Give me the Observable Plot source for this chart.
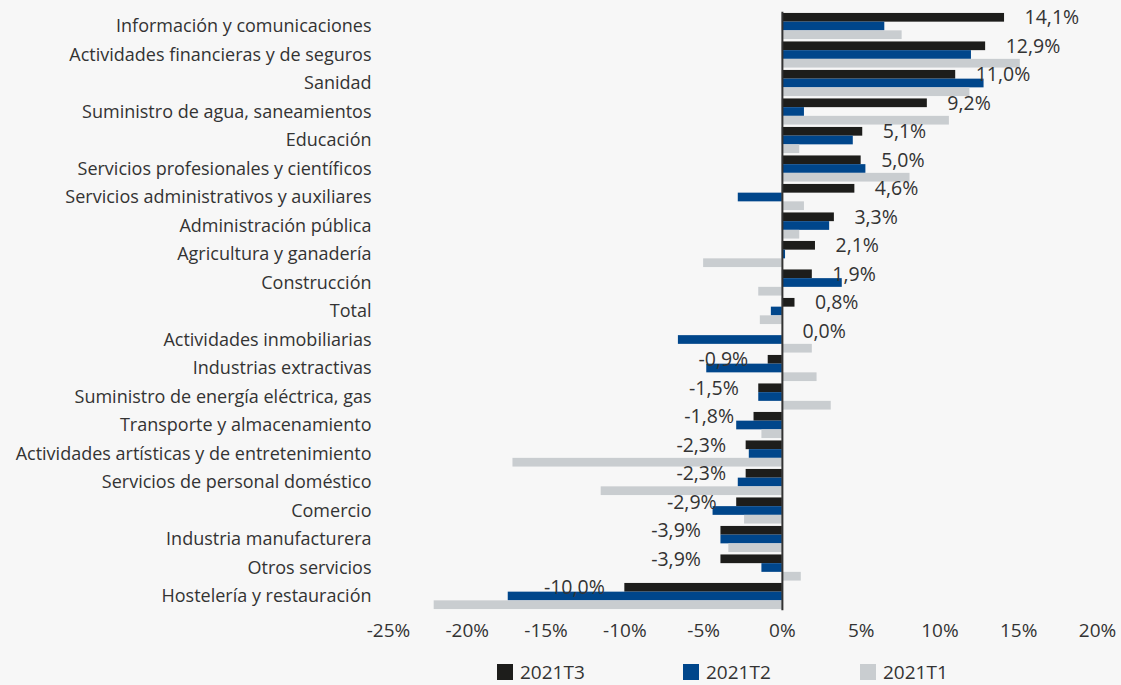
<!DOCTYPE html>
<html>
<head>
<meta charset="utf-8">
<script src="https://cdn.jsdelivr.net/npm/d3@7"></script>
<script src="https://cdn.jsdelivr.net/npm/@observablehq/plot@0.6"></script>
<style>
  html, body { margin: 0; padding: 0; background: #f7f7f7; }
  body { width: 1121px; height: 685px; overflow: hidden; font-family: "Open Sans", sans-serif; color: #333; }
  #chart svg { display: block; }
  #legend { position: relative; height: 18px; margin-top: 14px; }
  .item { position: absolute; top: 0; display: flex; align-items: center; font-size: 19px; line-height: 16px; height: 16px; }
  .sw { width: 16px; height: 16px; margin-right: 7px; }
</style>
</head>
<body>
<div id="chart"></div>
<div id="legend"></div>
<script>
const categories = [
  "Información y comunicaciones",
  "Actividades financieras y de seguros",
  "Sanidad",
  "Suministro de agua, saneamientos",
  "Educación",
  "Servicios profesionales y científicos",
  "Servicios administrativos y auxiliares",
  "Administración pública",
  "Agricultura y ganadería",
  "Construcción",
  "Total",
  "Actividades inmobiliarias",
  "Industrias extractivas",
  "Suministro de energía eléctrica, gas",
  "Transporte y almacenamiento",
  "Actividades artísticas y de entretenimiento",
  "Servicios de personal doméstico",
  "Comercio",
  "Industria manufacturera",
  "Otros servicios",
  "Hostelería y restauración"
];
const series = ["2021T3", "2021T2", "2021T1"];
const colors = ["#1d1d1b", "#00468b", "#c9cdd0"];
const t3 = [14.1, 12.9, 11.0, 9.2, 5.1, 5.0, 4.6, 3.3, 2.1, 1.9, 0.8, 0.0, -0.9, -1.5, -1.8, -2.3, -2.3, -2.9, -3.9, -3.9, -10.0];
const t2 = [6.5, 12.0, 12.8, 1.4, 4.5, 5.3, -2.8, 3.0, 0.2, 3.8, -0.7, -6.6, -4.8, -1.5, -2.9, -2.1, -2.8, -4.4, -3.9, -1.3, -17.4];
const t1 = [7.6, 15.1, 11.9, 10.6, 1.1, 8.1, 1.4, 1.1, -5.0, -1.5, -1.4, 1.9, 2.2, 3.1, -1.3, -17.1, -11.5, -2.4, -3.4, 1.2, -22.1];
const xTicks = [-25, -20, -15, -10, -5, 0, 5, 10, 15, 20];

const values = [t3, t2, t1];
const rows = values.map(v => categories.map((c, i) => ({category: c, value: v[i]})));
const fmt = v => v.toFixed(1).replace(".", ",") + "%";

const H = 650, MT = 11.75, MB = 39.75;
const step = (H - MT - MB) / categories.length;   // band step in px
const barH = 8.7;                                   // each series bar thickness
const inset = (step - barH) / 2;
const offsets = [-barH, 0, barH];                   // T3 above, T2 centre, T1 below

const chart = Plot.plot({
  width: 1121,
  height: H,
  marginLeft: 388,
  marginRight: 24,
  marginTop: MT,
  marginBottom: MB,
  style: {fontFamily: "'Open Sans', sans-serif", fontSize: "18px", background: "#f7f7f7", color: "#333"},
  x: {domain: [-25, 20], ticks: xTicks, tickFormat: d => `${d}%`, tickSize: 0, tickPadding: 13, label: null},
  y: {domain: categories, padding: 0, round: false, label: null, tickSize: 0, tickPadding: 17},
  marks: [
    ...series.map((s, j) => Plot.barX(rows[j], {
      y: "category", x: "value", fill: colors[j],
      insetTop: inset, insetBottom: inset, dy: offsets[j]
    })),
    Plot.ruleX([0], {stroke: "#333", strokeWidth: 2}),
    Plot.text(rows[0].filter(d => d.value >= 0), {y: "category", x: "value", text: d => fmt(d.value), textAnchor: "start", dx: 20, dy: offsets[0], fill: "#333", fontSize: 19.5}),
    Plot.text(rows[0].filter(d => d.value < 0), {y: "category", x: "value", text: d => fmt(d.value), textAnchor: "end", dx: -20, dy: offsets[0], fill: "#333", fontSize: 19.5})
  ]
});
document.getElementById("chart").appendChild(chart);
chart.querySelectorAll("g[aria-label='x-axis tick label'] text").forEach(t => t.setAttribute("font-size", "19"));

const legend = document.getElementById("legend");
const lx = [497, 683, 860];
series.forEach((s, i) => {
  const it = document.createElement("div");
  it.className = "item";
  it.style.left = lx[i] + "px";
  it.innerHTML = `<span class="sw" style="background:${colors[i]}"></span><span>${s}</span>`;
  legend.appendChild(it);
});
</script>
</body>
</html>
